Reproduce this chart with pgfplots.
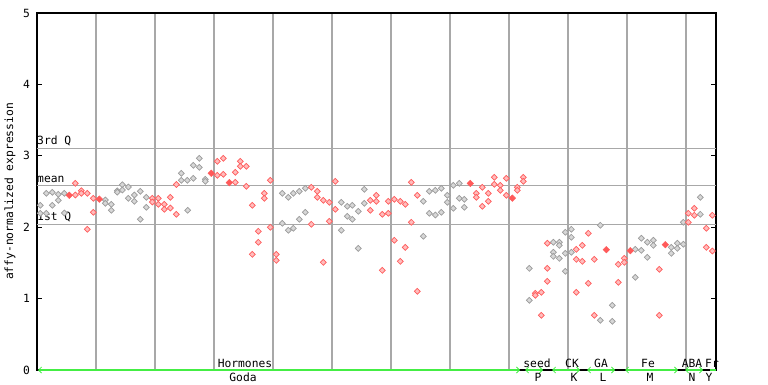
\documentclass[border=0pt]{standalone}
\usepackage{fontspec}
\setmainfont{DejaVu Sans Mono}
\usepackage{pgfplots}
\usepackage{pgfplotstable}
\pgfplotsset{compat=1.18}
\usetikzlibrary{arrows.meta}
\definecolor{gridg}{HTML}{A8A8A8}
\definecolor{ptred}{HTML}{FF5A5A}
\definecolor{ptgray}{HTML}{9A9A9A}
\definecolor{lime}{HTML}{44EE44}

\pgfplotstableread{
x y
3.3 2.307
3.3 2.195
9.3 2.475
9.3 2.195
15.3 2.489
15.3 2.307
21.3 2.461
21.3 2.377
27.3 2.475
27.3 2.199
68.3 2.381
68.3 2.335
74.3 2.321
74.3 2.237
80.3 2.51
80.3 2.49
85.3 2.595
85.3 2.521
91.3 2.563
91.3 2.405
97.3 2.451
97.3 2.363
103.3 2.503
103.3 2.111
109.3 2.419
109.3 2.279
144.3 2.755
144.3 2.657
150.3 2.657
150.7 2.237
156.3 2.867
156.3 2.685
162.3 2.965
162.3 2.839
168.3 2.671
168.3 2.643
245.3 2.475
245.3 2.055
251.3 2.419
251.3 1.957
256.3 2.475
256.3 1.985
262.3 2.503
262.3 2.111
268.3 2.545
268.3 2.209
304.3 2.349
304.3 1.957
310.3 2.293
310.3 2.153
315.3 2.307
315.3 2.111
321.3 2.223
321.3 1.704
327.3 2.531
327.3 2.335
386.3 2.363
386.3 1.873
392.3 2.503
392.3 2.195
398.3 2.517
398.3 2.171
404.3 2.545
404.3 2.209
410.3 2.447
410.3 2.349
416.3 2.587
416.3 2.265
422.3 2.615
422.3 2.405
427.3 2.391
427.3 2.279
492.3 1.424
492.3 0.976
516.3 1.789
516.3 1.649
516.3 1.592
522.3 1.789
522.3 1.746
522.3 1.564
528.3 1.929
528.3 1.634
528.3 1.382
534.3 1.971
534.3 1.859
534.3 1.649
563.3 2.027
563.3 0.696
575.3 0.906
575.3 0.682
598.3 1.690
598.3 1.298
604.3 1.845
604.3 1.676
610.3 1.789
610.3 1.578
616.3 1.817
616.3 1.746
634.3 1.718
634.3 1.634
640.3 1.775
640.3 1.704
646.3 2.069
646.3 1.761
663.3 2.419
663.3 2.181
}\graydata

\pgfplotstableread{
x y
38.3 2.615
38.3 2.451
44.3 2.511
44.3 2.475
50.3 2.475
50.3 1.971
56.3 2.405
56.3 2.209
115.3 2.405
115.3 2.353
121.3 2.405
121.3 2.321
127.3 2.321
127.3 2.251
133.3 2.419
133.3 2.269
139.3 2.598
139.3 2.181
180.3 2.923
180.3 2.727
186.3 2.965
186.3 2.741
198.3 2.769
198.3 2.629
203.3 2.923
203.3 2.853
209.3 2.853
209.3 2.573
215.3 2.307
215.3 1.620
221.3 1.943
221.3 1.789
227.3 2.475
227.3 2.405
233.3 2.657
233.3 1.999
239.3 1.620
239.3 1.536
274.3 2.559
274.3 2.041
280.3 2.503
280.3 2.419
286.3 2.377
286.3 1.508
292.3 2.349
292.3 2.083
298.3 2.643
298.3 2.251
333.3 2.377
333.3 2.237
339.3 2.447
339.3 2.363
345.3 2.181
345.3 1.396
351.3 2.363
351.3 2.195
357.3 2.391
357.3 1.817
363.3 2.363
363.3 1.522
368.3 2.321
368.3 1.718
374.3 2.629
374.3 2.069
380.3 2.447
380.3 1.102
439.3 2.475
439.3 2.419
445.3 2.559
445.3 2.293
451.3 2.475
451.3 2.363
457.3 2.699
457.3 2.601
463.3 2.587
463.3 2.517
469.3 2.685
469.3 2.447
480.3 2.559
480.3 2.517
486.3 2.699
486.3 2.643
498.3 1.074
498.3 1.046
504.3 1.088
504.3 0.766
510.3 1.775
510.3 1.424
510.3 1.242
539.3 1.690
539.3 1.550
539.3 1.088
545.3 1.746
545.3 1.522
551.3 1.915
551.3 1.214
557.3 1.550
557.3 0.766
581.3 1.480
581.3 1.228
587.3 1.564
587.3 1.508
622.3 1.410
622.3 0.766
651.3 2.195
651.3 2.069
657.3 2.265
657.3 2.167
669.3 1.985
669.3 1.718
675.3 2.167
675.3 1.667
}\reddata

\pgfplotstableread{
x y
32.3 2.447
62.3 2.393
174.3 2.755
192.3 2.624
433.3 2.613
475.3 2.407
569.3 1.685
593.3 1.671
628.3 1.755
}\reddouble

\begin{document}
\fontsize{11.3}{13}\selectfont
\begin{tikzpicture}[x=1pt,y=1pt]
\begin{axis}[
  at={(0,0)}, anchor=south west,
  scale only axis, width=679pt, height=357pt,
  xmin=0, xmax=679, ymin=0, ymax=5,
  axis line style={black, line width=1.2pt},
  xtick={59,118,...,649}, xticklabels={}, xmajorgrids,
  x tick style={draw=none},
  ytick={0,1,2,3,4,5},
  ytick pos=both,
  y tick style={black, line width=1pt},
  tick align=inside, major tick length=5pt,
  yticklabel style={font=\fontsize{11.3}{13}\selectfont, xshift=-3pt},
  /pgf/number format/assume math mode=true,
  grid style={gridg, line width=1.5pt},
  extra y ticks={2.04,2.587,3.105}, extra y tick labels={},
  extra y tick style={grid=major, major tick length=0pt},
  ylabel={affy-normalized expression},
  every axis y label/.style={at={(axis description cs:-0.0398,0.5)}, rotate=90, anchor=center},
  clip=false,
]
\addplot[only marks, mark=square*, mark size=2.1pt,
  mark options={rotate=45, draw=ptgray, fill=ptgray!40!white, line width=0.7pt}] table {\graydata};
\addplot[only marks, mark=square*, mark size=2.1pt,
  mark options={rotate=45, draw=ptred, fill=ptred!40!white, line width=0.7pt}] table {\reddata};
\addplot[only marks, mark=square*, mark size=2.3pt,
  mark options={rotate=45, draw=ptred, fill=ptred, line width=0.5pt}] table {\reddouble};

\node[anchor=south west, inner sep=0pt] at (axis cs:0,3.105) [yshift=2pt] {3rd Q};
\node[anchor=south west, inner sep=0pt] at (axis cs:0,2.587) [yshift=2pt] {mean};
\node[anchor=south west, inner sep=0pt] at (axis cs:0,2.04) [yshift=2pt] {1st Q};

\tikzset{grp/.style={lime, line width=2pt, arrows={Straight Barb[length=3pt,width=6pt,line width=0.8pt]-Straight Barb[length=3pt,width=6pt,line width=0.8pt]}}}
\draw[grp] (axis cs:1,0) -- (axis cs:483,0);
\draw[grp] (axis cs:488,0) -- (axis cs:506,0);
\draw[grp] (axis cs:515,0) -- (axis cs:543,0);
\draw[grp] (axis cs:550,0) -- (axis cs:578,0);
\draw[grp] (axis cs:588,0) -- (axis cs:641,0);
\draw[grp] (axis cs:648,0) -- (axis cs:666,0);
\draw[lime, line width=2pt] (axis cs:673,0) -- (axis cs:679,0);

\tikzset{top/.style={anchor=base, inner sep=0pt, yshift=3pt}, bot/.style={anchor=base, inner sep=0pt, yshift=-11pt}}
\node[top] at (axis cs:208,0) {Hormones};
\node[bot] at (axis cs:206,0) {Goda};
\node[top] at (axis cs:500,0) {seed};
\node[bot] at (axis cs:501,0) {P};
\node[top] at (axis cs:535,0) {CK};
\node[bot] at (axis cs:537,0) {K};
\node[top] at (axis cs:564,0) {GA};
\node[bot] at (axis cs:566,0) {L};
\node[top] at (axis cs:611,0) {Fe};
\node[bot] at (axis cs:613,0) {M};
\node[top] at (axis cs:655,0) {ABA};
\node[bot] at (axis cs:655,0) {N};
\node[top] at (axis cs:675,0) {Fr};
\node[bot] at (axis cs:672,0) {Y};
\end{axis}
\pgfresetboundingbox
\path (-37,-14) rectangle (731,370);
\end{tikzpicture}
\end{document}
